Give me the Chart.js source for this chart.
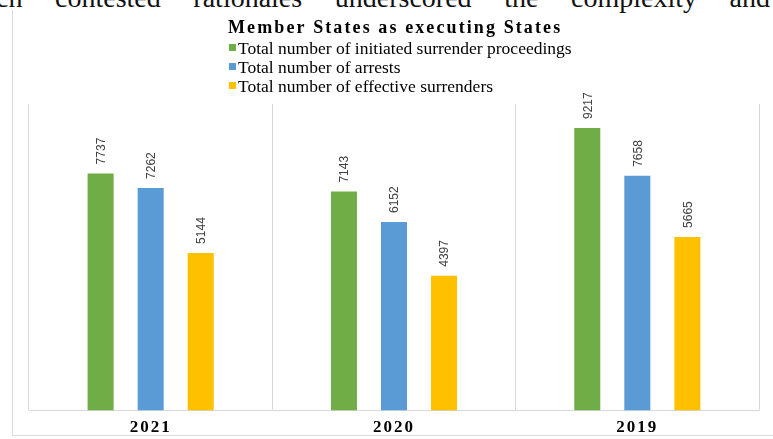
<!DOCTYPE html>
<html>
<head>
<meta charset="utf-8">
<script src="https://cdn.jsdelivr.net/npm/chart.js@4.4.1/dist/chart.umd.min.js"></script>
<style>
  body { margin: 0; background: #fff; overflow: hidden; }
  #page { position: relative; width: 773px; height: 439px; overflow: hidden; }
  #prose {
    position: absolute; left: -46px; top: -16px; width: 816px;
    font: 28px/28px "Liberation Serif", serif; color: #111;
    white-space: nowrap; text-align: justify; text-align-last: justify;
  }
  #frame {
    position: absolute; left: 12px; top: 10px; width: 800px; height: 425px;
    border-left: 1px solid #d9d9d9; border-bottom: 1px solid #d9d9d9;
  }
  #wrap { position: absolute; left: 0; top: 0; width: 773px; height: 448px; }
</style>
</head>
<body>
<div id="page">
  <div id="prose">which contested rationales underscored the complexity and</div>
  <div id="frame"></div>
  <div id="wrap"><canvas id="chart"></canvas></div>
</div>
<script>
const CHART_TITLE = 'Member States as executing States';
const years = ['2021', '2020', '2019'];
const seriesNames = [
    'Total number of initiated surrender proceedings',
    'Total number of arrests',
    'Total number of effective surrenders'
];
const initiated = [7737, 7143, 9217];
const arrests = [7262, 6152, 7658];
const effective = [5144, 4397, 5665];
const seriesColors = ['#70ad47', '#5b9bd5', '#ffc000'];

// year labels are spaced out a little, so letter spacing is on while scales draw
const spacing = {
    id: 'spacing',
    beforeDraw(chart) { chart.ctx.letterSpacing = '2px'; },
    beforeDatasetsDraw(chart) { chart.ctx.letterSpacing = '0px'; }
};

const valueLabels = {
    id: 'valueLabels',
    afterDatasetsDraw(chart) {
        const ctx = chart.ctx;
        ctx.save();
        ctx.font = '12px "Liberation Sans", sans-serif';
        ctx.fillStyle = '#404040';
        ctx.textAlign = 'left';
        ctx.textBaseline = 'middle';
        chart.data.datasets.forEach(function(ds, i) {
            chart.getDatasetMeta(i).data.forEach(function(bar, j) {
                ctx.save();
                ctx.translate(bar.x + 1, bar.y - 9);
                ctx.rotate(-Math.PI / 2);
                ctx.fillText(String(ds.data[j]), 0, 0);
                ctx.restore();
            });
        });
        ctx.restore();
    }
};

const topLegend = {
    id: 'topLegend',
    afterDraw(chart) {
        const ctx = chart.ctx;
        ctx.save();
        ctx.textAlign = 'left';
        ctx.textBaseline = 'alphabetic';
        ctx.fillStyle = '#000';
        ctx.font = 'bold 18px "Liberation Serif", serif';
        ctx.letterSpacing = '2.1px';
        ctx.fillText(CHART_TITLE, 228, 33);
        ctx.letterSpacing = '0px';
        ctx.font = '17.5px "Liberation Serif", serif';
        chart.data.datasets.forEach(function(ds, i) {
            const y = 54 + i * 19;
            ctx.fillStyle = ds.backgroundColor;
            ctx.fillRect(229, y - 10, 7, 7);
            ctx.fillStyle = '#000';
            ctx.fillText(ds.label, 238, y);
        });
        ctx.restore();
    }
};

const CTX = document.getElementById('chart').getContext('2d');
new Chart(CTX, {
    type: 'bar',
    data: {
        labels: years,
        datasets: [initiated, arrests, effective].map(function(values, i) {
            return {
                label: seriesNames[i],
                data: values,
                backgroundColor: seriesColors[i],
                borderWidth: 0,
                categoryPercentage: 0.617,
                barPercentage: 0.52
            };
        })
    },
    options: {
        responsive: true,
        maintainAspectRatio: false,
        animation: false,
        layout: { padding: { left: 29, right: 14, top: 104, bottom: 3 } },
        plugins: {
            legend: { display: false },
            title: { display: false },
            tooltip: { enabled: false }
        },
        scales: {
            x: {
                grid: { display: true, offset: true, color: '#d9d9d9', drawTicks: false },
                border: { display: true, color: '#d9d9d9' },
                ticks: {
                    color: '#000',
                    padding: 7,
                    font: { family: '"Liberation Serif", serif', size: 17, weight: 'bold' }
                }
            },
            y: {
                display: false,
                min: 0,
                max: 10000
            }
        }
    },
    plugins: [spacing, valueLabels, topLegend]
});
</script>
</body>
</html>
